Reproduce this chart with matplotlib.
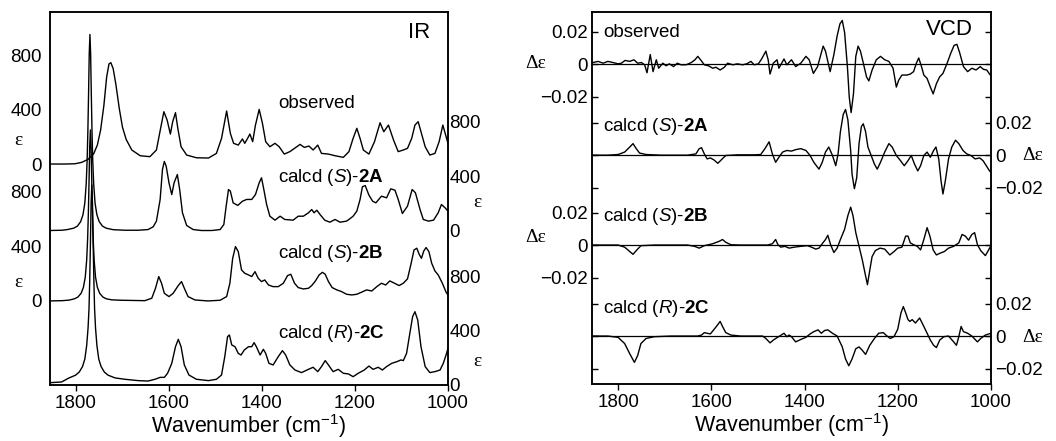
import numpy as np
import matplotlib.pyplot as plt
from matplotlib import transforms

plt.rcParams['font.family'] = ['Liberation Sans', 'DejaVu Sans']
plt.rcParams['mathtext.fontset'] = 'custom'
plt.rcParams['mathtext.rm'] = 'Liberation Sans'
plt.rcParams['mathtext.it'] = 'Liberation Sans:italic'
plt.rcParams['mathtext.bf'] = 'Liberation Sans:bold'

# ---- IR spectra, (wavenumber, epsilon) ----
ir_obs = np.array([
    (1856, 0), (1824, 0), (1802, 2), (1788, 12), (1774, 34), (1762, 75), (1754, 140), (1747, 250),
    (1740, 430), (1734, 640), (1729, 735), (1725, 744), (1720, 700), (1714, 580), (1707, 410),
    (1700, 270), (1692, 180), (1680, 103), (1662, 61), (1641, 54), (1627, 103), (1618, 262),
    (1611, 384), (1604, 323), (1597, 220), (1592, 311), (1586, 377), (1581, 262), (1574, 127),
    (1562, 66), (1541, 46), (1515, 44), (1498, 78), (1487, 188), (1476, 389), (1468, 225),
    (1461, 152), (1451, 139), (1442, 184), (1437, 152), (1431, 188), (1426, 220), (1420, 164),
    (1414, 286), (1406, 401), (1399, 299), (1392, 164), (1383, 127), (1372, 152), (1363, 127),
    (1352, 73), (1340, 91), (1318, 144), (1309, 122), (1299, 132), (1290, 103), (1280, 139),
    (1272, 78), (1257, 73), (1243, 61), (1225, 49), (1213, 91), (1204, 188), (1196, 262),
    (1189, 188), (1182, 103), (1170, 73), (1158, 164), (1146, 303), (1138, 237), (1128, 286),
    (1117, 176), (1107, 91), (1096, 103), (1087, 115), (1078, 188), (1071, 286), (1064, 311),
    (1057, 225), (1049, 127), (1039, 66), (1028, 78), (1019, 164), (1011, 286), (1004, 201),
    (1000, 152)])

ir_2a = np.array([
    (1856, 0), (1830, 2), (1820, 6), (1805, 17), (1797, 32), (1790, 65), (1785, 115), (1781, 201),
    (1778, 345), (1776, 518), (1774.5, 720), (1773, 993), (1771.5, 1295), (1770, 1439),
    (1768.5, 1295), (1767, 993), (1765.5, 720), (1764, 518), (1762, 345), (1759, 201), (1755, 115),
    (1750, 65), (1743, 32), (1735, 17), (1720, 6), (1695, 2), (1666, 2), (1645, 7), (1634, 27),
    (1627, 69), (1619, 228), (1614, 448), (1610, 507), (1606, 472), (1600, 350), (1594, 264),
    (1589, 350), (1582, 411), (1577, 301), (1571, 130), (1562, 37), (1548, 7), (1530, 0), (1508, 0),
    (1490, 7), (1482, 44), (1477, 179), (1472, 301), (1468, 289), (1462, 203), (1452, 184),
    (1442, 215), (1433, 228), (1422, 228), (1414, 264), (1406, 350), (1401, 387), (1396, 301),
    (1390, 191), (1383, 105), (1372, 76), (1361, 105), (1351, 81), (1333, 76), (1322, 105),
    (1311, 105), (1300, 130), (1293, 154), (1288, 130), (1282, 149), (1275, 117), (1265, 76),
    (1254, 61), (1243, 81), (1232, 61), (1218, 69), (1211, 86), (1204, 105), (1196, 142),
    (1189, 228), (1184, 321), (1178, 330), (1170, 260), (1162, 215), (1155, 203), (1143, 252),
    (1132, 240), (1123, 306), (1114, 296), (1107, 228), (1098, 125), (1087, 179), (1077, 301),
    (1070, 277), (1060, 154), (1053, 81), (1042, 69), (1031, 76), (1021, 130), (1014, 191),
    (1006, 166), (1000, 142)])

ir_2b = np.array([
    (1856, 0), (1830, 2), (1815, 6), (1804, 15), (1796, 28), (1789, 56), (1784, 100), (1780, 176),
    (1777, 301), (1775, 452), (1773.5, 628), (1772, 866), (1770.5, 1130), (1769, 1255),
    (1767.5, 1130), (1766, 866), (1764.5, 628), (1763, 452), (1761, 301), (1758, 176), (1754, 100),
    (1749, 56), (1742, 28), (1734, 15), (1723, 8), (1702, 5), (1652, 2), (1637, 20), (1629, 93),
    (1622, 179), (1616, 130), (1610, 56), (1600, 32), (1591, 56), (1580, 113), (1573, 142),
    (1567, 93), (1559, 32), (1544, 7), (1516, 0), (1490, 5), (1476, 32), (1469, 130), (1463, 313),
    (1457, 399), (1451, 362), (1444, 228), (1437, 203), (1429, 191), (1422, 179), (1415, 215),
    (1408, 166), (1401, 142), (1394, 154), (1386, 117), (1376, 105), (1365, 105), (1354, 130),
    (1345, 186), (1338, 196), (1330, 130), (1322, 98), (1311, 88), (1300, 93), (1293, 113),
    (1285, 147), (1277, 191), (1270, 210), (1264, 196), (1257, 142), (1249, 98), (1239, 81),
    (1229, 69), (1218, 49), (1207, 44), (1196, 49), (1186, 64), (1175, 81), (1164, 73), (1153, 105),
    (1143, 130), (1134, 117), (1125, 147), (1115, 130), (1105, 113), (1096, 130), (1087, 162),
    (1080, 264), (1073, 374), (1067, 387), (1062, 343), (1057, 313), (1052, 367), (1047, 392),
    (1041, 362), (1035, 277), (1028, 220), (1021, 191), (1012, 130), (1004, 64), (1000, 44)])

ir_2c = np.array([
    (1856, 17), (1831, 22), (1816, 50), (1801, 72), (1793, 95), (1786, 135), (1781, 190),
    (1777, 290), (1774, 420), (1772, 560), (1770.5, 760), (1769, 1030), (1767.5, 1330),
    (1766, 1468), (1764.5, 1330), (1763, 1030), (1761.5, 760), (1760, 560), (1758, 420),
    (1755, 290), (1751, 190), (1746, 135), (1739, 95), (1731, 72), (1716, 52), (1695, 42),
    (1666, 32), (1645, 29), (1630, 42), (1619, 56), (1610, 56), (1603, 86), (1594, 159),
    (1586, 281), (1580, 335), (1574, 281), (1567, 147), (1557, 73), (1541, 42), (1515, 32),
    (1498, 42), (1487, 73), (1480, 208), (1474, 355), (1470, 367), (1465, 294), (1458, 281),
    (1451, 232), (1445, 220), (1438, 257), (1429, 281), (1422, 281), (1417, 311), (1412, 281),
    (1404, 220), (1397, 262), (1392, 232), (1385, 159), (1376, 147), (1365, 208), (1356, 252),
    (1349, 220), (1340, 147), (1329, 110), (1315, 91), (1300, 115), (1290, 130), (1280, 98),
    (1272, 135), (1264, 179), (1257, 147), (1247, 98), (1236, 115), (1225, 86), (1214, 81),
    (1204, 61), (1193, 86), (1180, 110), (1170, 139), (1161, 115), (1150, 130), (1141, 110),
    (1132, 135), (1121, 159), (1110, 171), (1101, 184), (1096, 179), (1089, 232), (1082, 379),
    (1076, 502), (1071, 538), (1065, 477), (1058, 281), (1049, 135), (1039, 91), (1028, 98),
    (1017, 110), (1010, 159), (1003, 232), (1000, 270)])

# ---- VCD spectra, (wavenumber, delta epsilon) ----
vcd_obs = np.array([
    (1854, 0.0010), (1843, 0.0017), (1832, 0.0006), (1822, 0.0017), (1811, 0.0010), (1800, 0.0002),
    (1793, 0.0006), (1785, 0.0023), (1775, 0.0017), (1766, 0.0027), (1758, 0.0006), (1750, 0.0010),
    (1743, -0.0004), (1738, -0.0053), (1731, 0.0059), (1725, -0.0046), (1718, 0.0027),
    (1713, -0.0025), (1704, 0.0006), (1697, -0.0010), (1690, 0.0002), (1681, -0.0015),
    (1673, 0.0006), (1665, -0.0004), (1654, -0.0004), (1643, 0.0010), (1635, 0.0027),
    (1629, 0.0048), (1622, 0.0023), (1615, -0.0004), (1606, -0.0010), (1597, -0.0025),
    (1590, -0.0019), (1581, -0.0036), (1572, -0.0019), (1565, 0.0006), (1554, -0.0004),
    (1544, 0.0002), (1533, -0.0004), (1524, 0.0002), (1515, 0.0017), (1508, -0.0004),
    (1499, 0.0002), (1492, 0.0032), (1483, 0.0080), (1478, 0.0027), (1474, -0.0061),
    (1467, 0.0006), (1459, 0.0027), (1455, -0.0025), (1444, 0.0032), (1438, -0.0004),
    (1428, 0.0027), (1419, -0.0015), (1408, 0.0006), (1397, 0.0048), (1390, 0.0027),
    (1381, -0.0057), (1372, -0.0015), (1365, 0.0059), (1360, 0.0111), (1355, 0.0080),
    (1345, -0.0046), (1337, 0.0059), (1330, 0.0174), (1324, 0.0248), (1319, 0.0269),
    (1314, 0.0195), (1308, -0.0015), (1304, -0.0204), (1300, -0.0298), (1295, -0.0183),
    (1290, 0.0048), (1285, 0.0111), (1280, 0.0080), (1273, -0.0004), (1267, -0.0078),
    (1262, -0.0103), (1255, -0.0036), (1246, 0.0027), (1237, 0.0048), (1228, 0.0027),
    (1219, 0.0017), (1210, -0.0025), (1203, -0.0141), (1198, -0.0099), (1191, -0.0067),
    (1180, -0.0067), (1173, -0.0061), (1166, -0.0046), (1160, 0.0006), (1155, 0.0038),
    (1149, -0.0015), (1144, -0.0067), (1137, -0.0088), (1130, -0.0141), (1124, -0.0183),
    (1117, -0.0120), (1110, -0.0078), (1103, -0.0057), (1094, 0.0006), (1086, 0.0069),
    (1079, 0.0116), (1073, 0.0122), (1067, 0.0069), (1059, -0.0015), (1050, -0.0046),
    (1041, -0.0025), (1032, -0.0036), (1023, -0.0015), (1016, -0.0032), (1009, -0.0036),
    (1003, -0.0061), (1000, -0.0070)])

vcd_2a = np.array([
    (1854, 0.0), (1822, 0.0), (1800, 0.0004), (1786, 0.0019), (1775, 0.0050), (1768, 0.0071),
    (1761, 0.0040), (1754, 0.0013), (1740, 0.0004), (1708, 0.0), (1651, 0.0), (1633, 0.0008),
    (1626, 0.0040), (1621, 0.0046), (1615, 0.0008), (1609, -0.0023), (1602, -0.0017),
    (1594, -0.0030), (1586, -0.0050), (1579, -0.0030), (1569, -0.0002), (1544, 0.0002),
    (1508, 0.0002), (1494, 0.0004), (1485, 0.0040), (1476, 0.0082), (1469, 0.0008),
    (1462, -0.0044), (1455, -0.0013), (1447, 0.0019), (1438, 0.0029), (1428, 0.0025),
    (1419, 0.0034), (1408, 0.0040), (1397, 0.0029), (1388, -0.0002), (1380, -0.0044),
    (1369, -0.0086), (1362, -0.0044), (1355, 0.0019), (1348, 0.0050), (1340, -0.0002),
    (1333, -0.0065), (1328, 0.0008), (1323, 0.0145), (1317, 0.0250), (1312, 0.0281),
    (1307, 0.0218), (1301, 0.0029), (1298, -0.0118), (1293, -0.0206), (1288, -0.0139),
    (1283, 0.0071), (1278, 0.0176), (1274, 0.0193), (1269, 0.0145), (1264, 0.0050),
    (1257, -0.0002), (1250, -0.0055), (1244, -0.0086), (1237, -0.0044), (1228, 0.0019),
    (1219, 0.0071), (1212, 0.0050), (1203, -0.0002), (1194, -0.0034), (1186, -0.0065),
    (1178, -0.0034), (1171, -0.0002), (1164, -0.0055), (1157, -0.0097), (1151, -0.0065),
    (1144, -0.0002), (1137, 0.0019), (1130, -0.0013), (1123, 0.0029), (1118, 0.0050),
    (1112, -0.0023), (1107, -0.0160), (1103, -0.0239), (1098, -0.0160), (1091, -0.0023),
    (1084, 0.0050), (1076, 0.0092), (1069, 0.0071), (1060, 0.0029), (1052, 0.0008),
    (1043, -0.0002), (1034, -0.0023), (1024, -0.0017), (1017, -0.0034), (1010, -0.0065),
    (1003, -0.0097), (1000, -0.0105)])

vcd_2b = np.array([
    (1854, 0.0), (1800, 0.0), (1786, -0.0013), (1775, -0.0040), (1768, -0.0057), (1761, -0.0034),
    (1751, -0.0004), (1722, 0.0), (1651, 0.0), (1636, -0.0008), (1626, -0.0019), (1615, -0.0004),
    (1597, 0.0008), (1583, 0.0023), (1576, 0.0034), (1569, 0.0017), (1558, 0.0002), (1537, 0.0),
    (1479, 0.0), (1469, 0.0008), (1462, 0.0034), (1457, 0.0002), (1451, -0.0013),
    (1442, -0.0008), (1433, -0.0019), (1422, -0.0013), (1408, -0.0008), (1394, -0.0004),
    (1385, -0.0013), (1376, -0.0025), (1369, -0.0019), (1362, 0.0008), (1355, 0.0034),
    (1350, 0.0060), (1344, 0.0002), (1337, -0.0046), (1330, -0.0019), (1323, 0.0034),
    (1314, 0.0097), (1307, 0.0181), (1301, 0.0233), (1296, 0.0181), (1290, 0.0076),
    (1283, -0.0008), (1276, -0.0092), (1270, -0.0176), (1265, -0.0244), (1260, -0.0155),
    (1255, -0.0071), (1248, -0.0034), (1238, -0.0019), (1228, -0.0025), (1217, -0.0061),
    (1208, -0.0040), (1200, -0.0019), (1191, -0.0013), (1183, 0.0055), (1178, 0.0055),
    (1173, 0.0013), (1166, 0.0002), (1158, -0.0008), (1151, -0.0030), (1144, 0.0034),
    (1137, 0.0107), (1131, 0.0055), (1124, -0.0030), (1117, -0.0061), (1109, -0.0050),
    (1100, -0.0040), (1091, -0.0019), (1080, -0.0008), (1069, 0.0013), (1062, 0.0065),
    (1055, 0.0055), (1048, 0.0030), (1041, 0.0065), (1035, 0.0076), (1029, 0.0002),
    (1022, -0.0034), (1012, -0.0065), (1005, -0.0030), (1000, -0.0004)])

vcd_2c = np.array([
    (1854, 0.0), (1822, 0.0), (1800, -0.0008), (1786, -0.0046), (1775, -0.0109), (1765, -0.0162),
    (1758, -0.0120), (1751, -0.0046), (1740, -0.0015), (1722, -0.0004), (1686, 0.0), (1629, 0.0),
    (1621, 0.0006), (1615, 0.0021), (1609, 0.0017), (1602, 0.0013), (1595, 0.0038),
    (1588, 0.0063), (1581, 0.0090), (1576, 0.0059), (1569, 0.0021), (1558, 0.0006), (1537, 0.0),
    (1490, 0.0), (1483, -0.0015), (1474, -0.0042), (1467, -0.0025), (1458, -0.0008),
    (1450, 0.0006), (1444, 0.0017), (1438, -0.0004), (1433, 0.0006), (1428, -0.0004),
    (1419, -0.0036), (1408, -0.0021), (1397, -0.0008), (1388, 0.0013), (1380, 0.0027),
    (1371, 0.0038), (1364, 0.0017), (1357, 0.0034), (1350, 0.0038), (1340, 0.0017),
    (1330, 0.0), (1319, -0.0067), (1312, -0.0141), (1305, -0.0183), (1298, -0.0141),
    (1290, -0.0078), (1283, -0.0067), (1276, -0.0088), (1269, -0.0113), (1260, -0.0057),
    (1250, -0.0015), (1241, 0.0017), (1231, 0.0021), (1223, 0.0), (1216, -0.0015),
    (1208, -0.0004), (1200, 0.0042), (1193, 0.0143), (1188, 0.0181), (1183, 0.0143),
    (1178, 0.0101), (1174, 0.0090), (1169, 0.0101), (1162, 0.0080), (1153, 0.0111),
    (1144, 0.0059), (1137, 0.0017), (1130, -0.0025), (1123, -0.0057), (1117, -0.0071),
    (1110, -0.0025), (1101, -0.0004), (1091, 0.0), (1080, -0.0036), (1074, -0.0057),
    (1069, -0.0004), (1064, 0.0059), (1059, 0.0027), (1050, 0.0017), (1041, 0.0),
    (1034, -0.0021), (1029, -0.0036), (1022, -0.0015), (1012, 0.0006), (1000, 0.0017)])

ir_traces = [ir_obs, ir_2a, ir_2b, ir_2c]
ir_shift = [1622, 1134, 617, 0]          # stacking offsets (epsilon units)
vcd_traces = [vcd_obs, vcd_2a, vcd_2b, vcd_2c]
vcd_shift = [0.1968, 0.1408, 0.0855, 0.0295]

names = ['observed', r'calcd ($\mathit{S}$)-$\mathbf{2A}$',
         r'calcd ($\mathit{S}$)-$\mathbf{2B}$', r'calcd ($\mathit{R}$)-$\mathbf{2C}$']
xticks = [1800, 1600, 1400, 1200, 1000]
ir_ticks = [0, 400, 800]
vcd_ticks = [-0.02, 0, 0.02]

fs = 13.5
fig = plt.figure(figsize=(10.56, 4.41), dpi=100)
ax1 = fig.add_axes([0.0473, 0.127, 0.3769, 0.8458])
ax2 = fig.add_axes([0.5606, 0.1293, 0.3778, 0.8435])

def style_x(ax):
    ax.set_xlim(1856, 1000)
    ax.set_xticks(xticks)
    ax.set_xticklabels([str(t) for t in xticks])
    ax.tick_params(axis='x', direction='out', length=4.5, width=1, labelsize=fs, pad=3)
    ax.set_xlabel('Wavenumber (cm$^{-1}$)', fontsize=15.5, labelpad=0)
    for s in ax.spines.values():
        s.set_linewidth(1.1)

# ---- IR panel ----
for tr, off in zip(ir_traces, ir_shift):
    ax1.plot(tr[:, 0], tr[:, 1] + off, color='black', lw=1.0)
ax1.set_ylim(0, 2738)
style_x(ax1)
ax1r = ax1.twinx()
ax1r.set_ylim(ax1.get_ylim())
left_pos = [ir_shift[0] + t for t in ir_ticks] + [ir_shift[2] + t for t in ir_ticks]
right_pos = [ir_shift[1] + t for t in ir_ticks] + [ir_shift[3] + t for t in ir_ticks]
ax1.set_yticks(left_pos)
ax1.set_yticklabels([str(t) for t in ir_ticks] * 2)
ax1r.set_yticks(right_pos)
ax1r.set_yticklabels([str(t) for t in ir_ticks] * 2)
ax1.tick_params(axis='y', length=0, labelsize=fs, pad=6)
ax1r.tick_params(axis='y', length=0, labelsize=fs, pad=1)
for s in ax1r.spines.values():
    s.set_linewidth(1.1)

tr1 = transforms.blended_transform_factory(ax1.transAxes, ax1.transData)
for x, y in [(-0.080, 1798), (-0.080, 749), (1.073, 1343), (1.073, 169)]:
    ax1.text(x, y, 'ε', transform=tr1, family=['Liberation Serif'], fontsize=14,
             ha='center', va='center')
for name, y in zip(names, [0.754, 0.557, 0.353, 0.139]):
    ax1.text(0.573, y, name, transform=ax1.transAxes, fontsize=fs, ha='left', va='center')
ax1.text(0.955, 0.946, 'IR', transform=ax1.transAxes, fontsize=16, ha='right', va='center')

# ---- VCD panel ----
for tr, off in zip(vcd_traces, vcd_shift):
    ax2.axhline(off, color='black', lw=0.9)
    ax2.plot(tr[:, 0], tr[:, 1] + off, color='black', lw=1.0)
ax2.set_ylim(0, 0.2289)
style_x(ax2)
ax2r = ax2.twinx()
ax2r.set_ylim(ax2.get_ylim())
all_pos = []
for off in vcd_shift:
    all_pos += [off + t for t in vcd_ticks]
vlab = ['\u22120.02', '0', '0.02']
left_lab = vlab + [''] * 3 + vlab + [''] * 3
right_lab = [''] * 3 + vlab + [''] * 3 + vlab
ax2.set_yticks(all_pos)
ax2.set_yticklabels(left_lab)
ax2r.set_yticks(all_pos)
ax2r.set_yticklabels(right_lab)
ax2.tick_params(axis='y', direction='in', length=4, width=1, labelsize=fs, pad=3)
ax2r.tick_params(axis='y', direction='in', length=4, width=1, labelsize=fs, pad=3)
for s in ax2r.spines.values():
    s.set_linewidth(1.1)

tr2 = transforms.blended_transform_factory(ax2.transAxes, ax2.transData)
for x, y in [(-0.14, 0.1974), (-0.14, 0.0904), (1.105, 0.1408), (1.105, 0.0289)]:
    ax2.text(x, y, 'Δε', transform=tr2, family=['Liberation Serif'], fontsize=14,
             ha='center', va='center')
for name, y in zip(names, [0.944, 0.691, 0.449, 0.204]):
    ax2.text(0.028, y, name, transform=ax2.transAxes, fontsize=fs, ha='left', va='center')
ax2.text(0.955, 0.952, 'VCD', transform=ax2.transAxes, fontsize=16, ha='right', va='center')

fig.savefig('out.png', dpi=100)
